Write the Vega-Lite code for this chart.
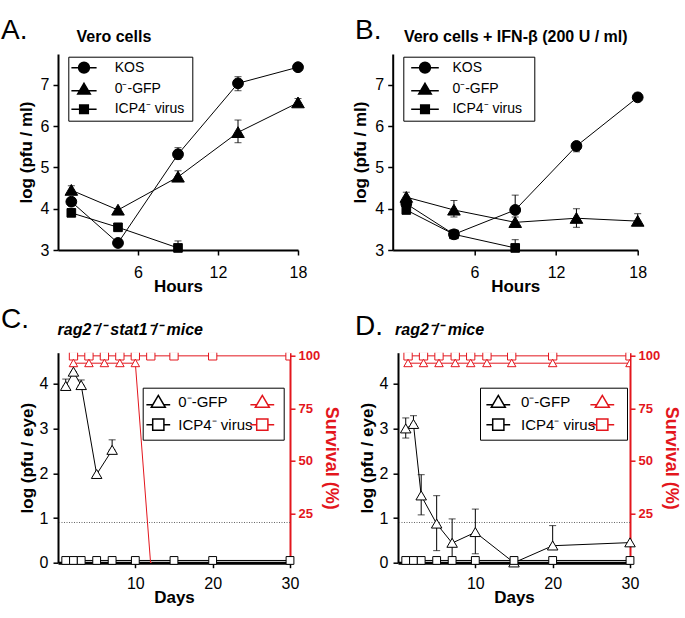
{
  "$schema": "https://vega.github.io/schema/vega-lite/v6.json",
  "background": "white",
  "padding": {"left": 1, "top": 16, "right": 12, "bottom": 5},
  "datasets": {
    "ab": [
      {"panel": "A", "series": "KOS", "t": 1, "v": 4.17},
      {"panel": "A", "series": "KOS", "t": 4.5, "v": 3.17},
      {"panel": "A", "series": "KOS", "t": 9, "v": 5.32, "lo": 5.2, "hi": 5.48},
      {"panel": "A", "series": "KOS", "t": 13.5, "v": 7.04, "lo": 6.86, "hi": 7.2},
      {"panel": "A", "series": "KOS", "t": 18, "v": 7.43},
      {"panel": "A", "series": "0\u207b-GFP", "t": 1, "v": 4.45, "lo": 4.45, "hi": 4.56},
      {"panel": "A", "series": "0\u207b-GFP", "t": 4.5, "v": 3.97},
      {"panel": "A", "series": "0\u207b-GFP", "t": 9, "v": 4.77, "lo": 4.77, "hi": 4.92},
      {"panel": "A", "series": "0\u207b-GFP", "t": 13.5, "v": 5.85, "lo": 5.6, "hi": 6.15},
      {"panel": "A", "series": "0\u207b-GFP", "t": 18, "v": 6.57, "lo": 6.57, "hi": 6.67},
      {"panel": "A", "series": "ICP4\u207b virus", "t": 1, "v": 3.9},
      {"panel": "A", "series": "ICP4\u207b virus", "t": 4.5, "v": 3.55},
      {"panel": "A", "series": "ICP4\u207b virus", "t": 9, "v": 3.05, "lo": 3.05, "hi": 3.22},
      {"panel": "B", "series": "KOS", "t": 1, "v": 4.12},
      {"panel": "B", "series": "KOS", "t": 4.5, "v": 3.38},
      {"panel": "B", "series": "KOS", "t": 9, "v": 3.97, "lo": 3.97, "hi": 4.33},
      {"panel": "B", "series": "KOS", "t": 13.5, "v": 5.52, "lo": 5.38, "hi": 5.52},
      {"panel": "B", "series": "KOS", "t": 18, "v": 6.7, "lo": 6.62, "hi": 6.8},
      {"panel": "B", "series": "0\u207b-GFP", "t": 1, "v": 4.28, "lo": 4.28, "hi": 4.4},
      {"panel": "B", "series": "0\u207b-GFP", "t": 4.5, "v": 3.97, "lo": 3.8, "hi": 4.2},
      {"panel": "B", "series": "0\u207b-GFP", "t": 9, "v": 3.67, "lo": 3.67, "hi": 3.8},
      {"panel": "B", "series": "0\u207b-GFP", "t": 13.5, "v": 3.77, "lo": 3.55, "hi": 4.0},
      {"panel": "B", "series": "0\u207b-GFP", "t": 18, "v": 3.7, "lo": 3.7, "hi": 3.88},
      {"panel": "B", "series": "ICP4\u207b virus", "t": 1, "v": 3.97},
      {"panel": "B", "series": "ICP4\u207b virus", "t": 4.5, "v": 3.38, "lo": 3.27, "hi": 3.38},
      {"panel": "B", "series": "ICP4\u207b virus", "t": 9, "v": 3.05, "lo": 3.05, "hi": 3.25}
    ],
    "cd": [
      {"panel": "C", "series": "0\u207b-GFP", "d": 1, "v": 3.95, "lo": 3.95, "hi": 4.11},
      {"panel": "C", "series": "0\u207b-GFP", "d": 2, "v": 4.27, "lo": 4.27, "hi": 4.39},
      {"panel": "C", "series": "0\u207b-GFP", "d": 3, "v": 3.97, "lo": 3.97, "hi": 4.09},
      {"panel": "C", "series": "0\u207b-GFP", "d": 5, "v": 1.98},
      {"panel": "C", "series": "0\u207b-GFP", "d": 7, "v": 2.52, "lo": 2.52, "hi": 2.75},
      {"panel": "C", "series": "ICP4\u207b virus", "d": 1, "v": 0.05},
      {"panel": "C", "series": "ICP4\u207b virus", "d": 2, "v": 0.05},
      {"panel": "C", "series": "ICP4\u207b virus", "d": 3, "v": 0.05},
      {"panel": "C", "series": "ICP4\u207b virus", "d": 5, "v": 0.05},
      {"panel": "C", "series": "ICP4\u207b virus", "d": 7, "v": 0.05},
      {"panel": "C", "series": "ICP4\u207b virus", "d": 10, "v": 0.05},
      {"panel": "C", "series": "ICP4\u207b virus", "d": 15, "v": 0.05},
      {"panel": "C", "series": "ICP4\u207b virus", "d": 20, "v": 0.05},
      {"panel": "C", "series": "ICP4\u207b virus", "d": 30, "v": 0.05},
      {"panel": "D", "series": "0\u207b-GFP", "d": 1, "v": 3.0, "lo": 2.79, "hi": 3.24},
      {"panel": "D", "series": "0\u207b-GFP", "d": 2, "v": 3.1, "lo": 3.1, "hi": 3.29},
      {"panel": "D", "series": "0\u207b-GFP", "d": 3, "v": 1.5, "lo": 1.07, "hi": 1.97},
      {"panel": "D", "series": "0\u207b-GFP", "d": 5, "v": 0.87, "lo": 0.27, "hi": 1.5},
      {"panel": "D", "series": "0\u207b-GFP", "d": 7, "v": 0.44, "lo": 0.1, "hi": 0.98},
      {"panel": "D", "series": "0\u207b-GFP", "d": 10, "v": 0.68, "lo": 0.2, "hi": 1.2},
      {"panel": "D", "series": "0\u207b-GFP", "d": 15, "v": 0.0},
      {"panel": "D", "series": "0\u207b-GFP", "d": 20, "v": 0.38, "lo": 0.38, "hi": 0.83},
      {"panel": "D", "series": "0\u207b-GFP", "d": 30, "v": 0.45},
      {"panel": "D", "series": "ICP4\u207b virus", "d": 1, "v": 0.05},
      {"panel": "D", "series": "ICP4\u207b virus", "d": 2, "v": 0.05},
      {"panel": "D", "series": "ICP4\u207b virus", "d": 3, "v": 0.05},
      {"panel": "D", "series": "ICP4\u207b virus", "d": 5, "v": 0.05},
      {"panel": "D", "series": "ICP4\u207b virus", "d": 7, "v": 0.05},
      {"panel": "D", "series": "ICP4\u207b virus", "d": 10, "v": 0.05},
      {"panel": "D", "series": "ICP4\u207b virus", "d": 15, "v": 0.05},
      {"panel": "D", "series": "ICP4\u207b virus", "d": 20, "v": 0.05},
      {"panel": "D", "series": "ICP4\u207b virus", "d": 30, "v": 0.05}
    ],
    "surv": [
      {"panel": "C", "series": "ICP4\u207b virus", "d": 2, "s": 100},
      {"panel": "C", "series": "ICP4\u207b virus", "d": 4, "s": 100},
      {"panel": "C", "series": "ICP4\u207b virus", "d": 6, "s": 100},
      {"panel": "C", "series": "ICP4\u207b virus", "d": 8, "s": 100},
      {"panel": "C", "series": "ICP4\u207b virus", "d": 10, "s": 100},
      {"panel": "C", "series": "ICP4\u207b virus", "d": 12, "s": 100},
      {"panel": "C", "series": "ICP4\u207b virus", "d": 15, "s": 100},
      {"panel": "C", "series": "ICP4\u207b virus", "d": 20, "s": 100},
      {"panel": "C", "series": "ICP4\u207b virus", "d": 30, "s": 100},
      {"panel": "C", "series": "0\u207b-GFP", "d": 2, "s": 96.5},
      {"panel": "C", "series": "0\u207b-GFP", "d": 4, "s": 96.5},
      {"panel": "C", "series": "0\u207b-GFP", "d": 6, "s": 96.5},
      {"panel": "C", "series": "0\u207b-GFP", "d": 8, "s": 96.5},
      {"panel": "C", "series": "0\u207b-GFP", "d": 10, "s": 96.5},
      {"panel": "C", "series": "0\u207b-GFP", "d": 12, "s": 0},
      {"panel": "D", "series": "ICP4\u207b virus", "d": 1.3, "s": 100},
      {"panel": "D", "series": "ICP4\u207b virus", "d": 3.3, "s": 100},
      {"panel": "D", "series": "ICP4\u207b virus", "d": 5.3, "s": 100},
      {"panel": "D", "series": "ICP4\u207b virus", "d": 7.4, "s": 100},
      {"panel": "D", "series": "ICP4\u207b virus", "d": 9.4, "s": 100},
      {"panel": "D", "series": "ICP4\u207b virus", "d": 11.5, "s": 100},
      {"panel": "D", "series": "ICP4\u207b virus", "d": 14.7, "s": 100},
      {"panel": "D", "series": "ICP4\u207b virus", "d": 20, "s": 100},
      {"panel": "D", "series": "ICP4\u207b virus", "d": 30, "s": 100},
      {"panel": "D", "series": "0\u207b-GFP", "d": 1.3, "s": 96.5},
      {"panel": "D", "series": "0\u207b-GFP", "d": 3.3, "s": 96.5},
      {"panel": "D", "series": "0\u207b-GFP", "d": 5.3, "s": 96.5},
      {"panel": "D", "series": "0\u207b-GFP", "d": 7.4, "s": 96.5},
      {"panel": "D", "series": "0\u207b-GFP", "d": 9.4, "s": 96.5},
      {"panel": "D", "series": "0\u207b-GFP", "d": 11.5, "s": 96.5},
      {"panel": "D", "series": "0\u207b-GFP", "d": 14.7, "s": 96.5},
      {"panel": "D", "series": "0\u207b-GFP", "d": 20, "s": 96.5},
      {"panel": "D", "series": "0\u207b-GFP", "d": 30, "s": 96.5}
    ]
  },
  "vconcat": [
    {
      "hconcat": [
        {
          "width": 240, "height": 196,
          "title": {"text": "A.", "subtitle": "\u200b\u00a0\u00a0\u00a0\u00a0\u00a0\u00a0\u00a0\u00a0\u00a0\u00a0\u00a0\u00a0\u00a0\u00a0\u00a0\u00a0\u00a0Vero cells", "anchor": "start", "frame": "group", "dx": -57, "offset": 9, "fontSize": 28, "fontWeight": "normal", "color": "black", "subtitleFontSize": 16, "subtitleFontWeight": "bold", "subtitleColor": "black", "subtitlePadding": -15.5},
          "data": {"name": "ab"},
          "transform": [{"filter": "datum.panel === 'A'"}],
          "encoding": {
            "x": {"field": "t", "type": "quantitative", "scale": {"domain": [0, 18], "nice": false, "zero": false}, "axis": {"values": [6, 12, 18], "title": "Hours", "labelPadding": 9, "titlePadding": -1.5}},
            "y": {"field": "v", "type": "quantitative", "scale": {"domain": [3, 7.75], "nice": false, "zero": false}, "axis": {"values": [3, 4, 5, 6, 7], "title": "log (pfu / ml)", "labelPadding": 4, "titlePadding": 5}}
          },
          "layer": [
            {"transform": [{"filter": "isValid(datum.hi)"}], "mark": {"type": "errorbar", "ticks": true, "size": 7, "thickness": 1, "color": "black"},
             "encoding": {"y": {"field": "lo", "type": "quantitative", "scale": {"domain": [3, 7.75], "nice": false, "zero": false}, "axis": {"values": [3, 4, 5, 6, 7], "title": "log (pfu / ml)", "labelPadding": 4, "titlePadding": 5}}, "y2": {"field": "hi"}}},
            {"mark": {"type": "line", "color": "black", "strokeWidth": 1}, "encoding": {"detail": {"field": "series"}}},
            {"mark": {"type": "point", "filled": true, "fill": "black", "stroke": "black", "strokeWidth": 1, "opacity": 1, "size": 144},
             "encoding": {"shape": {"field": "series", "type": "nominal",
               "scale": {"domain": ["KOS", "0\u207b-GFP", "ICP4\u207b virus"], "range": ["M-0.9,0A0.9,0.9,0,1,1,0.9,0A0.9,0.9,0,1,1,-0.9,0Z", "M0,-0.95L1.05,0.85L-1.05,0.85Z", "M-0.72,-0.72H0.72V0.72H-0.72Z"]},
               "legend": null}}},
            {"transform": [{"filter": "false"}],
             "mark": {"type": "point", "filled": true, "fill": "black", "stroke": "black", "strokeWidth": 1, "opacity": 1, "size": 144},
             "encoding": {"shape": {"field": "series", "type": "nominal",
               "scale": {"domain": ["KOS", "0\u207b-GFP", "ICP4\u207b virus"], "range": ["M-2.1,0H2.1M-0.9,0A0.9,0.9,0,1,1,0.9,0A0.9,0.9,0,1,1,-0.9,0Z", "M-2.1,0.3H2.1M0,-0.95L1.05,0.85L-1.05,0.85Z", "M-2.1,0H2.1M-0.72,-0.72H0.72V0.72H-0.72Z"]},
               "legend": {"orient": "none", "legendX": 10.3, "legendY": 2.7, "title": null, "padding": 4, "rowPadding": 3.3, "symbolSize": 144, "symbolOffset": 4.7, "labelOffset": 23.7, "labelFontSize": 14, "labelColor": "black", "strokeColor": "black", "fillColor": "white",
                 "labelExpr": "datum.label + '\u00a0\u200b'"}}}}
          ],
          "resolve": {"scale": {"shape": "independent"}}
        },
        {
          "width": 245, "height": 196,
          "title": {"text": "B.", "subtitle": "\u200b\u00a0\u00a0\u00a0\u00a0\u00a0\u00a0\u00a0\u00a0\u00a0\u00a0\u00a0Vero cells + IFN-\u03b2 (200 U / ml)", "anchor": "start", "frame": "group", "dx": -37.7, "offset": 9, "fontSize": 28, "fontWeight": "normal", "color": "black", "subtitleFontSize": 16, "subtitleFontWeight": "bold", "subtitleColor": "black", "subtitlePadding": -15.5},
          "data": {"name": "ab"},
          "transform": [{"filter": "datum.panel === 'B'"}],
          "encoding": {
            "x": {"field": "t", "type": "quantitative", "scale": {"domain": [0, 18], "nice": false, "zero": false}, "axis": {"values": [6, 12, 18], "title": "Hours", "labelPadding": 9, "titlePadding": -1.5}},
            "y": {"field": "v", "type": "quantitative", "scale": {"domain": [3, 7.75], "nice": false, "zero": false}, "axis": {"values": [3, 4, 5, 6, 7], "title": "log (pfu / ml)", "labelPadding": 4, "titlePadding": 5}}
          },
          "layer": [
            {"transform": [{"filter": "isValid(datum.hi)"}], "mark": {"type": "errorbar", "ticks": true, "size": 7, "thickness": 1, "color": "black"},
             "encoding": {"y": {"field": "lo", "type": "quantitative", "scale": {"domain": [3, 7.75], "nice": false, "zero": false}, "axis": {"values": [3, 4, 5, 6, 7], "title": "log (pfu / ml)", "labelPadding": 4, "titlePadding": 5}}, "y2": {"field": "hi"}}},
            {"mark": {"type": "line", "color": "black", "strokeWidth": 1}, "encoding": {"detail": {"field": "series"}}},
            {"mark": {"type": "point", "filled": true, "fill": "black", "stroke": "black", "strokeWidth": 1, "opacity": 1, "size": 144},
             "encoding": {"shape": {"field": "series", "type": "nominal",
               "scale": {"domain": ["KOS", "0\u207b-GFP", "ICP4\u207b virus"], "range": ["M-0.9,0A0.9,0.9,0,1,1,0.9,0A0.9,0.9,0,1,1,-0.9,0Z", "M0,-0.95L1.05,0.85L-1.05,0.85Z", "M-0.72,-0.72H0.72V0.72H-0.72Z"]},
               "legend": null}}},
            {"transform": [{"filter": "false"}],
             "mark": {"type": "point", "filled": true, "fill": "black", "stroke": "black", "strokeWidth": 1, "opacity": 1, "size": 144},
             "encoding": {"shape": {"field": "series", "type": "nominal",
               "scale": {"domain": ["KOS", "0\u207b-GFP", "ICP4\u207b virus"], "range": ["M-2.3,0H2.3M-0.9,0A0.9,0.9,0,1,1,0.9,0A0.9,0.9,0,1,1,-0.9,0Z", "M-2.3,0.3H2.3M0,-0.95L1.05,0.85L-1.05,0.85Z", "M-2.3,0H2.3M-0.72,-0.72H0.72V0.72H-0.72Z"]},
               "legend": {"orient": "none", "legendX": 10.6, "legendY": 2.7, "title": null, "padding": 4, "rowPadding": 3.3, "symbolSize": 144, "symbolOffset": 10.7, "labelOffset": 20.4, "labelFontSize": 14, "labelColor": "black", "strokeColor": "black", "fillColor": "white",
                 "labelExpr": "datum.label + '\u00a0\u00a0\u200b'"}}}}
          ],
          "resolve": {"scale": {"shape": "independent"}}
        }
      ],
      "spacing": 94.7,
      "bounds": "flush",
      "resolve": {"scale": {"shape": "independent"}}
    },
    {
      "hconcat": [
        {
          "width": 232, "height": 210,
          "title": {"text": "C.", "subtitle": "\u200b\u00a0\u00a0\u00a0\u00a0\u00a0\u00a0\u00a0\u00a0\u00a0\u00a0\u00a0\u00a0\u2009rag2\u207b/\u207b stat1\u207b/\u207b mice", "anchor": "start", "frame": "group", "dx": -57, "offset": 12, "fontSize": 28, "fontWeight": "normal", "color": "black", "subtitleFontSize": 16, "subtitleFontWeight": "bold", "subtitleFontStyle": "italic", "subtitleColor": "black", "subtitlePadding": -12},
          "layer": [
            {
              "layer": [
                {"data": {"values": [{}]}, "mark": {"type": "rule", "color": "#666666", "strokeDash": [1, 1.5], "strokeWidth": 1},
                 "encoding": {"y": {"datum": 0.9, "type": "quantitative", "scale": {"domain": [0, 4.7], "nice": false, "zero": false}, "axis": {"values": [0, 1, 2, 3, 4], "title": "log (pfu / eye)", "labelPadding": 5, "titlePadding": 3}}}},
                {
                  "data": {"name": "cd"},
                  "transform": [{"filter": "datum.panel === 'C'"}],
                  "encoding": {
                    "x": {"field": "d", "type": "quantitative", "scale": {"domain": [0, 30], "nice": false, "zero": false}, "axis": {"values": [10, 20, 30], "title": "Days", "domainWidth": 3, "labelPadding": 8, "titlePadding": -2}},
                    "y": {"field": "v", "type": "quantitative", "scale": {"domain": [0, 4.7], "nice": false, "zero": false}, "axis": {"values": [0, 1, 2, 3, 4], "title": "log (pfu / eye)", "labelPadding": 5, "titlePadding": 3}}
                  },
                  "layer": [
                    {"transform": [{"filter": "isValid(datum.hi)"}], "mark": {"type": "errorbar", "ticks": true, "size": 7, "thickness": 1, "color": "black"},
                     "encoding": {"y": {"field": "lo", "type": "quantitative", "scale": {"domain": [0, 4.7], "nice": false, "zero": false}, "axis": {"values": [0, 1, 2, 3, 4], "title": "log (pfu / eye)", "labelPadding": 5, "titlePadding": 3}}, "y2": {"field": "hi"}}},
                    {"mark": {"type": "line", "color": "black", "strokeWidth": 1}, "encoding": {"detail": {"field": "series"}}},
                    {"mark": {"type": "point", "filled": true, "fill": "white", "stroke": "black", "strokeWidth": 1, "opacity": 1, "size": 100},
                     "encoding": {"shape": {"field": "series", "type": "nominal",
                       "scale": {"domain": ["0\u207b-GFP", "ICP4\u207b virus"], "range": ["M0,-0.95L1.05,0.85L-1.05,0.85Z", "M-0.78,-0.78H0.78V0.78H-0.78Z"]},
                       "legend": null}}},
                    {"transform": [{"filter": "false"}],
                     "mark": {"type": "point", "filled": true, "fill": "white", "stroke": "black", "strokeWidth": 1, "opacity": 1, "size": 196},
                     "encoding": {"shape": {"field": "series", "type": "nominal",
                       "scale": {"domain": ["0\u207b-GFP", "ICP4\u207b virus"], "range": ["M-1.7,0.45H-0.79M0.79,0.45H1.7M0,-0.9L1,0.8L-1,0.8Z", "M-1.7,0H-0.8M0.8,0H1.7M-0.8,-0.8H0.8V0.8H-0.8Z"]},
                       "legend": {"orient": "none", "legendX": 84.7, "legendY": 35, "title": null, "padding": 6, "rowPadding": 5, "symbolSize": 196, "symbolOffset": 1.6, "labelOffset": 12, "labelFontSize": 15, "labelColor": "black", "strokeColor": "black", "fillColor": "white",
                         "labelExpr": "datum.label + '\u00a0\u00a0\u00a0\u00a0\u00a0\u00a0\u200b'"}}}}
                  ],
                  "resolve": {"scale": {"shape": "independent"}}
                }
              ]
            },
            {
              "data": {"name": "surv"},
              "transform": [{"filter": "datum.panel === 'C'"}],
              "encoding": {
                "x": {"field": "d", "type": "quantitative", "scale": {"domain": [0, 30], "nice": false, "zero": false}, "axis": {"values": [10, 20, 30], "title": "Days", "domainWidth": 3, "labelPadding": 8, "titlePadding": -2}},
                "y": {"field": "s", "type": "quantitative", "scale": {"domain": [1.5, 101.5], "nice": false, "zero": false}, "axis": {"orient": "right", "values": [25, 50, 75, 100], "title": "Survival (%)", "labelPadding": 3, "titlePadding": 2}}
              },
              "layer": [
                {"mark": {"type": "line", "color": "#e3161d", "strokeWidth": 1, "clip": true}, "encoding": {"detail": {"field": "series"}}},
                {"mark": {"type": "point", "filled": true, "fill": "white", "stroke": "#e3161d", "strokeWidth": 1, "opacity": 1, "size": 100, "clip": true},
                 "encoding": {"shape": {"field": "series", "type": "nominal",
                   "scale": {"domain": ["0\u207b-GFP", "ICP4\u207b virus"], "range": ["M0,-0.8L0.85,0.7L-0.85,0.7Z", "M-0.83,-0.83H0.83V0.83H-0.83Z"]},
                   "legend": null}}},
                {"transform": [{"filter": "false"}],
                 "mark": {"type": "point", "filled": true, "fill": "white", "stroke": "#e3161d", "strokeWidth": 1, "opacity": 1, "size": 196},
                 "encoding": {"shape": {"field": "series", "type": "nominal",
                   "scale": {"domain": ["0\u207b-GFP", "ICP4\u207b virus"], "range": ["M-1.7,0.45H-0.79M0.79,0.45H1.7M0,-0.9L1,0.8L-1,0.8Z", "M-1.7,0H-0.8M0.8,0H1.7M-0.8,-0.8H0.8V0.8H-0.8Z"]},
                   "legend": {"orient": "none", "legendX": 190.3, "legendY": 35, "title": null, "padding": 6, "rowPadding": 5, "symbolSize": 196, "symbolOffset": 0, "labelFontSize": 15, "labelExpr": "''"}}}}
              ],
              "resolve": {"scale": {"shape": "independent"}}
            }
          ],
          "resolve": {"scale": {"y": "independent", "shape": "independent"}}
        },
        {
          "width": 232, "height": 210,
          "title": {"text": "D.", "subtitle": "\u200b\u00a0\u00a0\u00a0\u00a0\u00a0\u00a0\u00a0\u00a0\u00a0rag2\u207b/\u207b mice", "anchor": "start", "frame": "group", "dx": -43, "offset": 9, "fontSize": 28, "fontWeight": "normal", "color": "black", "subtitleFontSize": 16, "subtitleFontWeight": "bold", "subtitleFontStyle": "italic", "subtitleColor": "black", "subtitlePadding": -18.5},
          "layer": [
            {
              "layer": [
                {"data": {"values": [{}]}, "mark": {"type": "rule", "color": "#666666", "strokeDash": [1, 1.5], "strokeWidth": 1},
                 "encoding": {"y": {"datum": 0.9, "type": "quantitative", "scale": {"domain": [0, 4.7], "nice": false, "zero": false}, "axis": {"values": [0, 1, 2, 3, 4], "title": "log (pfu / eye)", "labelPadding": 5, "titlePadding": 3}}}},
                {
                  "data": {"name": "cd"},
                  "transform": [{"filter": "datum.panel === 'D'"}],
                  "encoding": {
                    "x": {"field": "d", "type": "quantitative", "scale": {"domain": [0, 30], "nice": false, "zero": false}, "axis": {"values": [10, 20, 30], "title": "Days", "domainWidth": 3, "labelPadding": 8, "titlePadding": -2}},
                    "y": {"field": "v", "type": "quantitative", "scale": {"domain": [0, 4.7], "nice": false, "zero": false}, "axis": {"values": [0, 1, 2, 3, 4], "title": "log (pfu / eye)", "labelPadding": 5, "titlePadding": 3}}
                  },
                  "layer": [
                    {"transform": [{"filter": "isValid(datum.hi)"}], "mark": {"type": "errorbar", "ticks": true, "size": 7, "thickness": 1, "color": "black"},
                     "encoding": {"y": {"field": "lo", "type": "quantitative", "scale": {"domain": [0, 4.7], "nice": false, "zero": false}, "axis": {"values": [0, 1, 2, 3, 4], "title": "log (pfu / eye)", "labelPadding": 5, "titlePadding": 3}}, "y2": {"field": "hi"}}},
                    {"mark": {"type": "line", "color": "black", "strokeWidth": 1}, "encoding": {"detail": {"field": "series"}}},
                    {"mark": {"type": "point", "filled": true, "fill": "white", "stroke": "black", "strokeWidth": 1, "opacity": 1, "size": 100},
                     "encoding": {"shape": {"field": "series", "type": "nominal",
                       "scale": {"domain": ["0\u207b-GFP", "ICP4\u207b virus"], "range": ["M0,-0.95L1.05,0.85L-1.05,0.85Z", "M-0.78,-0.78H0.78V0.78H-0.78Z"]},
                       "legend": null}}},
                    {"transform": [{"filter": "false"}],
                     "mark": {"type": "point", "filled": true, "fill": "white", "stroke": "black", "strokeWidth": 1, "opacity": 1, "size": 196},
                     "encoding": {"shape": {"field": "series", "type": "nominal",
                       "scale": {"domain": ["0\u207b-GFP", "ICP4\u207b virus"], "range": ["M-1.7,0.45H-0.79M0.79,0.45H1.7M0,-0.9L1,0.8L-1,0.8Z", "M-1.7,0H-0.8M0.8,0H1.7M-0.8,-0.8H0.8V0.8H-0.8Z"]},
                       "legend": {"orient": "none", "legendX": 82, "legendY": 35, "title": null, "padding": 6, "rowPadding": 5, "symbolSize": 196, "symbolOffset": 4.3, "labelOffset": 14.7, "labelFontSize": 15, "labelColor": "black", "strokeColor": "black", "fillColor": "white",
                         "labelExpr": "datum.label + '\u00a0\u00a0\u00a0\u00a0\u00a0\u00a0\u200b'"}}}}
                  ],
                  "resolve": {"scale": {"shape": "independent"}}
                }
              ]
            },
            {
              "data": {"name": "surv"},
              "transform": [{"filter": "datum.panel === 'D'"}],
              "encoding": {
                "x": {"field": "d", "type": "quantitative", "scale": {"domain": [0, 30], "nice": false, "zero": false}, "axis": {"values": [10, 20, 30], "title": "Days", "domainWidth": 3, "labelPadding": 8, "titlePadding": -2}},
                "y": {"field": "s", "type": "quantitative", "scale": {"domain": [1.5, 101.5], "nice": false, "zero": false}, "axis": {"orient": "right", "values": [25, 50, 75, 100], "title": "Survival (%)", "labelPadding": 3, "titlePadding": 2}}
              },
              "layer": [
                {"mark": {"type": "line", "color": "#e3161d", "strokeWidth": 1, "clip": true}, "encoding": {"detail": {"field": "series"}}},
                {"mark": {"type": "point", "filled": true, "fill": "white", "stroke": "#e3161d", "strokeWidth": 1, "opacity": 1, "size": 100, "clip": true},
                 "encoding": {"shape": {"field": "series", "type": "nominal",
                   "scale": {"domain": ["0\u207b-GFP", "ICP4\u207b virus"], "range": ["M0,-0.8L0.85,0.7L-0.85,0.7Z", "M-0.83,-0.83H0.83V0.83H-0.83Z"]},
                   "legend": null}}},
                {"transform": [{"filter": "false"}],
                 "mark": {"type": "point", "filled": true, "fill": "white", "stroke": "#e3161d", "strokeWidth": 1, "opacity": 1, "size": 196},
                 "encoding": {"shape": {"field": "series", "type": "nominal",
                   "scale": {"domain": ["0\u207b-GFP", "ICP4\u207b virus"], "range": ["M-1.7,0.45H-0.79M0.79,0.45H1.7M0,-0.9L1,0.8L-1,0.8Z", "M-1.7,0H-0.8M0.8,0H1.7M-0.8,-0.8H0.8V0.8H-0.8Z"]},
                   "legend": {"orient": "none", "legendX": 190.3, "legendY": 35, "title": null, "padding": 6, "rowPadding": 5, "symbolSize": 196, "symbolOffset": 0, "labelFontSize": 15, "labelExpr": "''"}}}}
              ],
              "resolve": {"scale": {"shape": "independent"}}
            }
          ],
          "resolve": {"scale": {"y": "independent", "shape": "independent"}}
        }
      ],
      "spacing": 108,
      "bounds": "flush",
      "resolve": {"scale": {"shape": "independent"}}
    }
  ],
  "spacing": 10.7,
  "resolve": {"scale": {"shape": "independent"}},
  "config": {
    "font": "Liberation Sans",
    "view": {"stroke": null},
    "axis": {"grid": false, "domainColor": "black", "tickColor": "black", "labelColor": "black", "titleColor": "black", "labelFontSize": 16, "titleFontSize": 17, "titleFontWeight": "bold", "tickSize": 5, "tickWidth": 1.5, "domainWidth": 2, "labelFlush": false, "labelOverlap": false},
    "axisRight": {"domainColor": "#e3161d", "tickColor": "#e3161d", "labelColor": "#e3161d", "titleColor": "#e3161d", "labelFontWeight": "bold", "labelFontSize": 13, "titleFontSize": 18, "domainWidth": 2},
    "legend": {"labelFont": "Liberation Sans"}
  }
}
